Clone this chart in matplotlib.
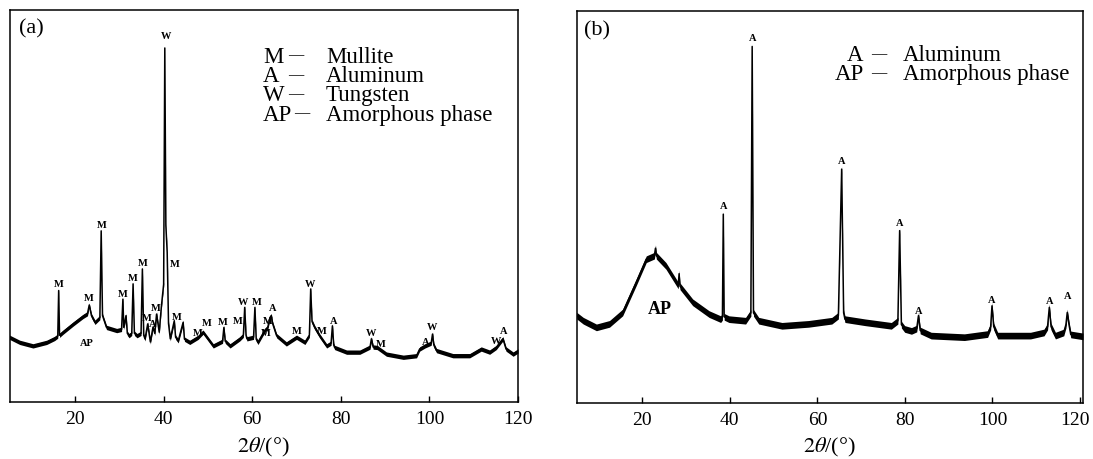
import matplotlib
matplotlib.use("Agg")
import matplotlib.pyplot as plt
import matplotlib.transforms as mtransforms
import numpy as np

plt.rcParams['font.family'] = ['Liberation Serif', 'DejaVu Serif']
plt.rcParams['mathtext.fontset'] = 'stix'

# ---------------- data: panel (a) trace (2theta, intensity a.u.) ----------------
a_x = [5.2, 7.5, 10.5, 13.6, 15.4, 16.1, 16.3, 16.5, 17.3, 19.6, 21.8, 22.8, 23.2, 23.7,
       24.5, 25.6, 25.9, 26.2, 27.1, 29.4, 30.5, 30.8, 31.0, 31.5, 31.8, 32.2, 32.8, 33.1,
       33.4, 34.0, 34.9, 35.2, 35.5, 35.8, 36.4, 37.0, 37.6, 38.0, 38.4, 39.0, 39.5, 40.0,
       40.26, 40.5, 40.8, 41.1, 41.5, 42.4, 42.7, 43.3, 44.4, 44.7, 45.9, 47.8, 48.9, 51.2,
       53.3, 53.6, 53.9, 55.0, 57.2, 58.0, 58.3, 58.6, 58.8, 60.3, 60.6, 60.9, 61.3, 62.8,
       63.5, 64.0, 64.3, 64.6, 65.5, 67.7, 70.0, 71.9, 72.9, 73.2, 73.5, 74.1, 75.2, 76.8,
       77.8, 78.1, 78.4, 78.6, 81.3, 84.3, 86.6, 86.9, 87.3, 88.2, 90.3, 94.1, 97.1, 97.8,
       99.0, 100.4, 100.7, 101.0, 101.6, 105.3, 109.1, 111.7, 113.6, 115.1, 116.6, 117.3,
       118.9, 120.0]
a_y = [16.5, 15.2, 14.3, 15.2, 16.2, 16.8, 28.4, 17.0, 17.8, 19.9, 21.8, 22.5, 24.7, 22.0,
       20.3, 21.5, 43.6, 22.0, 19.0, 18.2, 18.5, 26.2, 19.0, 22.0, 17.5, 16.9, 17.5, 30.1,
       17.5, 16.9, 17.5, 33.9, 17.0, 16.1, 19.9, 15.3, 19.1, 17.5, 22.4, 17.8, 24.5, 30.0,
       90.2, 45.0, 38.1, 20.0, 16.1, 20.7, 16.5, 15.6, 20.3, 16.0, 15.2, 16.5, 17.8, 14.3,
       15.5, 19.0, 15.5, 14.3, 16.1, 17.0, 24.1, 17.0, 16.1, 16.5, 24.1, 16.0, 15.2, 18.2,
       19.0, 21.5, 22.0, 20.0, 16.9, 14.8, 16.5, 15.2, 17.0, 28.8, 20.5, 19.0, 16.9, 14.3,
       15.0, 19.4, 14.5, 13.9, 12.7, 12.7, 14.0, 16.1, 14.0, 13.9, 12.2, 11.4, 11.8, 13.5,
       14.3, 15.0, 17.3, 14.5, 13.1, 11.8, 11.8, 13.5, 12.7, 13.9, 16.1, 13.5,
       12.2, 13.0]

# peak labels of panel (a)
a_lab_text = ['M', 'M', 'M', 'M', 'M', 'M', 'M', 'A', 'M', 'W', 'M', 'M', 'M', 'M', 'M',
              'M', 'W', 'M', 'M', 'M', 'A', 'M', 'W', 'M', 'A', 'W', 'M', 'A', 'W', 'W', 'A']
a_lab_x = [16.3, 23.2, 26.0, 30.8, 33.1, 35.2, 36.1, 37.5, 38.2, 40.5, 42.5, 42.9, 47.8, 49.7,
           53.4, 56.8, 57.9, 61.0, 63.0, 63.4, 64.7, 70.0, 73.1, 75.6, 78.3, 86.8, 89.0, 99.2,
           100.5, 115.1, 116.8]
a_lab_y = [30.1, 26.5, 45.1, 27.7, 31.6, 35.6, 21.6, 19.9, 24.1, 93.5, 35.2, 21.8, 17.8, 20.3,
           20.5, 20.7, 25.6, 25.6, 17.8, 20.7, 24.1, 18.3, 30.1, 18.2, 20.7, 17.6, 15.0, 15.4,
           19.3, 15.6, 18.2]
a_ap = (22.7, 15.2)

# ---------------- data: panel (b) trace ----------------
b_x = [5.0, 6.5, 9.5, 12.5, 15.5, 18.6, 20.9, 22.75, 23.0, 23.2, 25.4, 28.2, 28.4, 28.6,
       31.5, 35.25, 37.9, 38.3, 38.5, 38.7, 39.8, 43.6, 44.8, 45.1, 45.4, 46.6, 51.9, 58.0,
       63.3, 64.8, 65.55, 66.0, 66.3, 70.9, 76.9, 78.4, 78.8, 79.2, 79.95, 81.5, 82.7, 83.1,
       83.5, 86.0, 93.6, 98.9, 99.6, 99.9, 100.3, 101.2, 108.7, 111.8, 112.6, 113.0, 113.4,
       114.4, 116.3, 116.8, 117.1, 117.5, 117.9, 120.7]
b_y = [22.3, 21.0, 19.3, 20.2, 23.1, 30.8, 36.7, 37.6, 39.5, 37.6, 35.0, 30.0, 33.0, 29.8,
       25.7, 22.7, 21.4, 22.0, 48.2, 22.0, 21.4, 21.0, 23.0, 91.0, 23.0, 21.0, 19.7, 20.2,
       21.0, 22.3, 59.7, 23.0, 21.4, 20.6, 19.7, 21.0, 44.0, 20.0, 18.9, 18.4, 19.0, 22.3,
       18.5, 17.2, 16.8, 17.6, 19.5, 24.8, 19.5, 17.2, 17.2, 18.0, 19.5, 24.4, 19.5,
       17.2, 18.0, 20.0, 23.1, 20.0, 17.5, 17.0]

b_lab_x = [38.5, 45.1, 65.55, 78.8, 83.1, 99.9, 113.0, 117.1]
b_lab_y = [50.4, 93.3, 61.8, 46.1, 23.5, 26.5, 26.1, 27.5]
b_ap = (23.9, 24.0)

# legends
a_leg_sym = ['M', 'A', 'W', 'AP']
a_leg_name = ['Mullite', 'Aluminum', 'Tungsten', 'Amorphous phase']
b_leg_sym = ['A', 'AP']
b_leg_name = ['Aluminum', 'Amorphous phase']

ticks = [20, 40, 60, 80, 100, 120]

W, H = 1093, 460
fig = plt.figure(figsize=(W / 100, H / 100), dpi=100)

def px_axes(l, t, r, b):
    return fig.add_axes([l / W, 1 - b / H, (r - l) / W, (b - t) / H])

axA = px_axes(9.5, 10.5, 518, 403)
axB = px_axes(576.7, 12.2, 1083, 404)

def style(ax, xlim):
    ax.set_xlim(*xlim)
    ax.set_ylim(0, 100)
    ax.set_yticks([])
    ax.set_xticks(ticks)
    ax.tick_params(axis='x', direction='in', length=4, width=1.0, pad=6,
                   labelsize=14, top=False)
    for s in ax.spines.values():
        s.set_linewidth(1.1)
        s.set_color('black')

def trace(ax, x, y, band):
    x = np.asarray(x, float)
    y = np.asarray(y, float)
    ax.fill_between(x, y - band, y + band, color='black', lw=0, zorder=2)
    ax.plot(x, y, color='black', lw=1.1, zorder=3)

style(axA, (5.2, 120.0))
style(axB, (5.0, 120.7))
trace(axA, a_x, a_y, 0.55)
trace(axB, b_x, b_y, 0.85)

# nudge the last tick label of panel (b) so it stays inside the figure
lastlab = axB.get_xticklabels()[-1]
lastlab.set_transform(lastlab.get_transform() +
                      mtransforms.ScaledTranslation(-5 / 100, 0, fig.dpi_scale_trans))

lab_kw = dict(ha='center', va='center', fontsize=7.5, fontweight='bold', color='black', zorder=4)
for t, x, y in zip(a_lab_text, a_lab_x, a_lab_y):
    axA.text(x, y, t, **lab_kw)
axA.text(a_ap[0], a_ap[1], 'AP', **lab_kw)
for x, y in zip(b_lab_x, b_lab_y):
    axB.text(x, y, 'A', **lab_kw)
axB.text(b_ap[0], b_ap[1], 'AP', ha='center', va='center', fontsize=13,
         fontweight='bold', color='black', zorder=4)

# panel tags
fig.text(19 / W, 1 - 29 / H, '(a)', fontsize=16, ha='left', va='center')
fig.text(584 / W, 1 - 31 / H, '(b)', fontsize=16, ha='left', va='center')

# legends (pixel positions: symbol left x, dash centre x, name left x, row y)
def legend(x_syms, x_dashes, x_name, y0, dy, syms, names):
    for i, (s, n) in enumerate(zip(syms, names)):
        y = 1 - (y0 + i * dy) / H
        fig.text(x_syms[i] / W, y, s, fontsize=16.5, ha='left', va='center')
        fig.text(x_dashes[i] / W, y + 1.5 / H, '\u2014', fontsize=11, ha='center', va='center')
        fig.text(x_name / W, y, n, fontsize=16.5, ha='left', va='center')

legend([263, 263, 263, 263], [296, 296, 296, 302], 326, 57.5, 19.2, a_leg_sym, a_leg_name)
legend([847, 835], [879, 879], 903, 55.7, 19.2, b_leg_sym, b_leg_name)

# x labels
fig.text((9.5 + 518) / 2 / W, 1 - 447 / H, r'$2\theta$/(°)', fontsize=16, ha='center', va='center')
fig.text((576.7 + 1083) / 2 / W, 1 - 447 / H, r'$2\theta$/(°)', fontsize=16, ha='center', va='center')

fig.savefig('out.png', dpi=100)
